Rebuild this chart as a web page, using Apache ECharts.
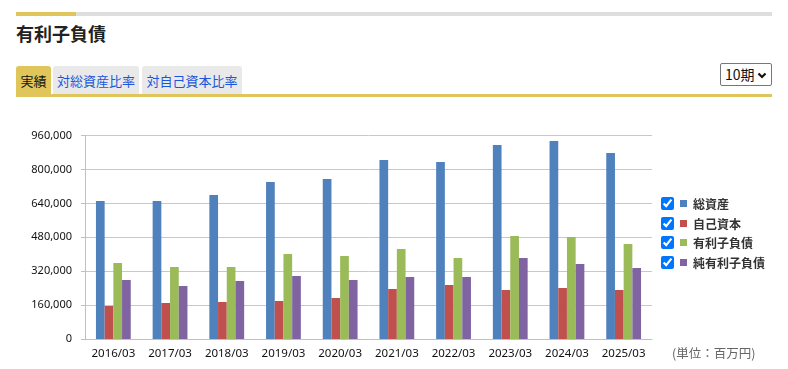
<!DOCTYPE html>
<html><head><meta charset="utf-8">
<script src="https://cdn.jsdelivr.net/npm/echarts@6/dist/echarts.min.js"></script>
<style>
html,body{margin:0;padding:0;background:#fff;width:788px;height:369px;overflow:hidden;font-family:"Noto Sans CJK JP","Noto Sans",sans-serif;}
#bar{position:absolute;left:16px;top:12px;width:756px;height:4px;background:#dedede;}
#bar div{width:60px;height:4px;background:#e0c55a;}
#title{position:absolute;left:16px;top:19px;font-size:18px;font-weight:bold;color:#222;line-height:28px;}
.tab{position:absolute;top:66px;height:29px;line-height:29px;font-size:13px;color:#1a56db;background:#e9e9e9;border-radius:3px 3px 0 0;text-align:center;}
#tab1{left:16px;width:35px;background:#e0c55a;color:#111;}
#tab2{left:53px;width:86px;}
#tab3{left:142px;width:100px;}
#line{position:absolute;left:16px;top:94px;width:756px;height:3px;background:#e0c55a;}
#sel{position:absolute;left:720px;top:63px;width:52px;height:23px;box-sizing:border-box;border:1px solid #777;border-radius:2px;font-size:14px;line-height:21px;padding-left:4px;color:#111;background:#fff;}
#sel svg{position:absolute;right:4px;top:8px;}
#chart{position:absolute;left:0;top:100px;width:788px;height:269px;}
#legend{position:absolute;left:660px;top:194px;}
.li{height:19.5px;display:flex;align-items:center;font-size:12px;font-weight:bold;color:#333;}
.li input{margin:0 6px 0 1px;width:13px;height:13px;}
.sq{display:inline-block;width:7px;height:7px;margin-right:6px;}
#unit{position:absolute;left:672px;top:344px;font-size:12.5px;color:#666;line-height:18px;}
</style></head>
<body>
<div id="bar"><div></div></div>
<div id="title">有利子負債</div>
<div class="tab" id="tab1">実績</div>
<div class="tab" id="tab2">対総資産比率</div>
<div class="tab" id="tab3">対自己資本比率</div>
<div id="line"></div>
<div id="sel">10期<svg width="10" height="7" viewBox="0 0 10 7"><polyline points="1.5,1.5 5,5 8.5,1.5" fill="none" stroke="#111" stroke-width="2.2"/></svg></div>
<div id="chart"></div>
<div id="legend"></div>
<div id="unit">(単位：百万円)</div>
<script>
const categories = ["2016/03","2017/03","2018/03","2019/03","2020/03","2021/03","2022/03","2023/03","2024/03","2025/03"];
const seriesNames = ["総資産","自己資本","有利子負債","純有利子負債"];
const totalAssets = [651600,651600,680000,741400,755500,845200,835800,916100,935000,878300];
const equity = [155800,170000,174700,179400,193600,236100,255000,231400,240800,231400];
const interestDebt = [358900,340000,340000,401400,391900,425000,382500,486400,481600,448600];
const netInterestDebt = [278600,250300,273900,297500,278600,292800,292800,382500,354200,335300];
const yTicks = [0,160000,320000,480000,640000,800000,960000];
const colors = ["#4f81bd","#c0504d","#9bbb59","#8064a2"];
const values = [totalAssets, equity, interestDebt, netInterestDebt];

const chart = echarts.init(document.getElementById('chart'));
chart.setOption({
  animation:false,
  color:colors,
  legend:{show:false},
  grid:{left:85,right:136,top:35.7,bottom:30},
  xAxis:{type:'category',data:categories,boundaryGap:true,
    axisLine:{lineStyle:{color:'#c0c0c0'}},
    axisTick:{length:5,lineStyle:{color:'#c0c0c0'}},
    axisLabel:{color:'#111',fontSize:11.5,margin:9,interval:0,hideOverlap:false,fontFamily:'Noto Sans'}},
  yAxis:{type:'value',min:yTicks[0],max:yTicks[yTicks.length-1],interval:160000,
    axisLine:{show:true,lineStyle:{color:'#c0c0c0'}},
    axisTick:{show:true,length:4,lineStyle:{color:'#c0c0c0'}},
    splitLine:{lineStyle:{color:'#c8c8c8'}},
    axisLabel:{color:'#111',fontSize:11,margin:13,fontFamily:'Noto Sans',
      formatter:v=>v.toLocaleString('en-US')}},
  series:seriesNames.map((n,i)=>({name:n,type:'bar',data:values[i],barWidth:8.7,barGap:'0%'}))
});

const lg = document.getElementById('legend');
seriesNames.forEach((n,i)=>{
  const d=document.createElement('div');d.className='li';
  const cb=document.createElement('input');cb.type='checkbox';cb.checked=true;
  cb.onchange=()=>chart.dispatchAction({type:'legendToggleSelect',name:n});
  const sq=document.createElement('span');sq.className='sq';sq.style.background=colors[i];
  const t=document.createElement('span');t.textContent=n;
  d.appendChild(cb);d.appendChild(sq);d.appendChild(t);lg.appendChild(d);
});
</script>
</body></html>
